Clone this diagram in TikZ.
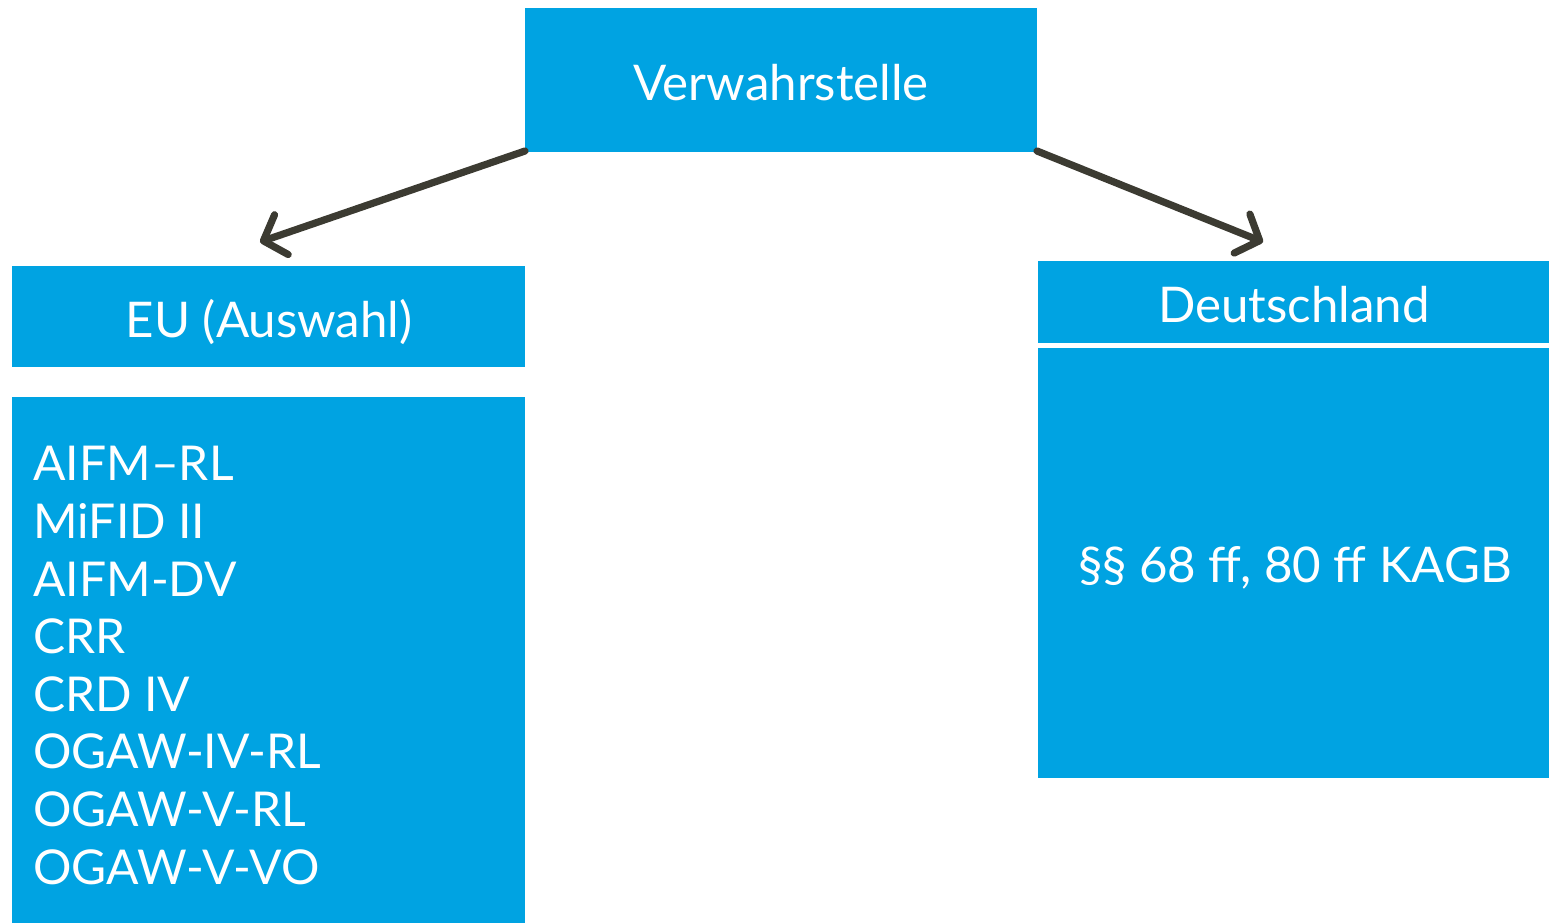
\documentclass[tikz,border=0pt]{standalone}
\usepackage{fontspec}
\setmainfont{Lato}
\usetikzlibrary{arrows.meta}
\definecolor{boxblue}{RGB}{0,163,226}
\definecolor{arrowdark}{RGB}{60,59,50}
\begin{document}
\begin{tikzpicture}[x=0.5pt,y=-0.5pt,
  conn/.style={draw=arrowdark,line width=3.6pt,line cap=round,
    -{Straight Barb[length=9.5pt,width=21pt,line width=3.6pt,line cap=round,line join=round]}},
  txt/.style={text=white,font=\fontsize{24.6pt}{28.8pt}\selectfont,inner sep=0pt},
  listtxt/.style={text=white,font=\fontsize{24pt}{28.8pt}\selectfont,inner sep=0pt,align=left,anchor=north west}]
\useasboundingbox (0,0) rectangle (1549,923);
\fill[boxblue] (525,8) rectangle (1037,152);
\node[txt] (top) at (781,83) {Verwahrstelle};
\coordinate (topL) at (525,151);
\coordinate (topR) at (1037,151);
\fill[boxblue] (12,266) rectangle (525,367);
\node[txt] (euh) at (269,322) {EU (Auswahl)};
\fill[boxblue] (12,397) rectangle (525,923);
\node[listtxt] (eul) at (33,446) {AIFM–RL\\MiFID II\\AIFM-DV\\CRR\\CRD IV\\OGAW-IV-RL\\OGAW-V-RL\\OGAW-V-VO};
\fill[boxblue] (1038,261) rectangle (1549,343);
\node[txt] (deh) at (1294,305) {Deutschland};
\fill[boxblue] (1038,348) rectangle (1549,778);
\node[txt] (del) at (1295,568) {§§ 68 ff, 80 ff KAGB};
\coordinate (euT) at (260,242);
\coordinate (deT) at (1263,242);
\draw[conn] (topL) -- (euT);
\draw[conn] (topR) -- (deT);
\end{tikzpicture}
\end{document}
